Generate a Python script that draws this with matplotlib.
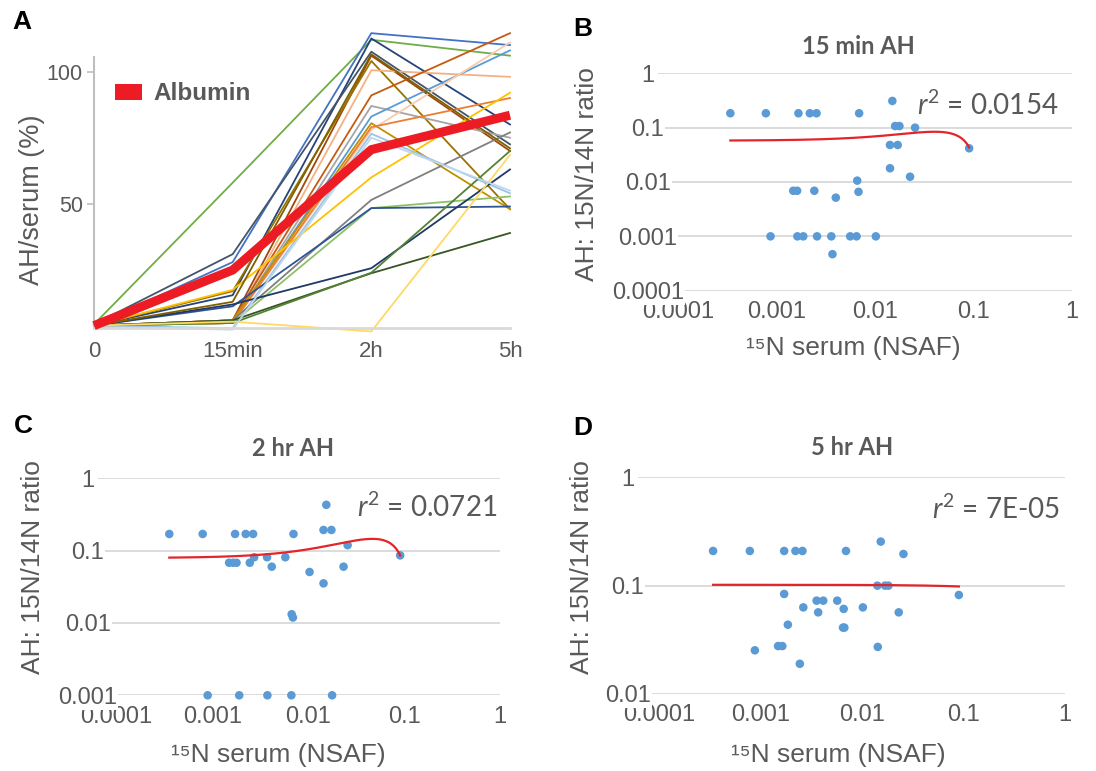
import matplotlib
matplotlib.use("Agg")
import matplotlib.pyplot as plt
import numpy as np
from matplotlib.patches import Patch

plt.rcParams['mathtext.fontset'] = 'custom'
plt.rcParams['mathtext.rm'] = 'Lato'
plt.rcParams['mathtext.it'] = 'Lato:italic'
plt.rcParams['font.family'] = ['Liberation Sans', 'DejaVu Sans']

# ---------------- Panel A data ----------------
time_labels = ['0', '15min', '2h', '5h']
protein_values = [
    [4.5, 58.0, 112.0, 106.0],
    [4.0, 28.0, 114.5, 110.0],
    [4.0, 15.5, 112.5, 80.0],
    [4.5, 31.0, 107.5, 72.5],
    [4.0, 6.0, 106.0, 70.0],
    [4.0, 17.0, 104.0, 48.0],
    [4.0, 5.0, 100.5, 98.0],
    [4.0, 6.0, 91.0, 114.5],
    [4.0, 5.0, 87.0, 75.0],
    [4.0, 5.0, 83.0, 108.0],
    [4.0, 5.0, 78.0, 111.0],
    [4.0, 6.0, 80.5, 48.0],
    [4.0, 3.0, 76.5, 54.0],
    [4.0, 5.0, 79.0, 90.0],
    [4.0, 17.5, 60.0, 92.0],
    [4.0, 6.0, 51.5, 77.0],
    [4.0, 5.0, 48.4, 52.8],
    [4.0, 11.3, 48.4, 49.0],
    [4.0, 12.0, 25.7, 63.0],
    [4.0, 6.0, 23.8, 39.0],
    [4.0, 5.0, 24.0, 70.0],
    [4.0, 5.5, 1.8, 68.5],
    [3.5, 2.5, 75.0, 55.0],
    [4.0, 13.0, 106.5, 71.0],
]
protein_colors = [
    '#70AD47', '#4472C4', '#264478', '#44546A', '#9E480E', '#997300',
    '#F4B183', '#C55A11', '#A5A5A5', '#5B9BD5', '#F8CBAD', '#BF9000',
    '#9DC3E6', '#ED7D31', '#FFC000', '#7F7F7F', '#8CC168', '#2F5597',
    '#203864', '#375623', '#548235', '#FFD966', '#BDD7EE', '#7F6000',
]
albumin_values = [4.0, 25.0, 70.5, 83.5]

# ---------------- Panels B-D data ----------------
xB = [3.4e-4, 7.8e-4, 1.67e-3, 2.18e-3, 2.55e-3, 6.9e-3, 0.015, 0.016, 0.0177, 0.0255,
      0.0142, 0.017, 0.0903, 0.0142, 0.0227, 0.0066, 1.48e-3, 1.62e-3, 2.42e-3, 4.0e-3,
      6.8e-3, 8.7e-4, 1.63e-3, 1.87e-3, 2.58e-3, 3.6e-3, 5.6e-3, 6.5e-3, 0.0102, 3.7e-3]
yB = [0.184, 0.184, 0.184, 0.184, 0.184, 0.184, 0.31, 0.107, 0.107, 0.1,
      0.048, 0.048, 0.0417, 0.0179, 0.0125, 0.0106, 0.0069, 0.0069, 0.0069, 0.00515,
      0.0066, 0.001, 0.001, 0.001, 0.001, 0.001, 0.001, 0.001, 0.001, 0.00047]

xC = [3.54e-4, 7.9e-4, 1.72e-3, 2.22e-3, 2.65e-3, 7.0e-3, 0.0154, 0.0144, 0.0174, 0.0257,
      0.0908, 1.49e-3, 1.64e-3, 1.78e-3, 2.45e-3, 2.72e-3, 3.71e-3, 4.15e-3, 5.75e-3, 0.0103,
      0.0144, 0.0233, 6.7e-3, 6.9e-3, 8.9e-4, 1.9e-3, 3.74e-3, 6.65e-3, 0.0177]
yC = [0.17, 0.17, 0.17, 0.17, 0.17, 0.17, 0.43, 0.193, 0.193, 0.119,
      0.086, 0.068, 0.068, 0.068, 0.068, 0.081, 0.081, 0.060, 0.081, 0.0507,
      0.0353, 0.060, 0.0132, 0.0119, 0.001, 0.001, 0.001, 0.001, 0.001]

xD = [3.41e-4, 7.85e-4, 1.71e-3, 2.21e-3, 2.59e-3, 6.95e-3, 0.0153, 0.0256, 0.01416, 0.01686,
      0.0182, 0.090, 1.71e-3, 3.57e-3, 4.15e-3, 5.7e-3, 2.64e-3, 6.6e-3, 0.0102, 3.7e-3,
      0.023, 1.86e-3, 6.5e-3, 6.7e-3, 8.8e-4, 1.49e-3, 1.64e-3, 0.0143, 2.44e-3]
yD = [0.209, 0.209, 0.209, 0.209, 0.209, 0.209, 0.255, 0.196, 0.1, 0.1,
      0.1, 0.082, 0.0838, 0.0727, 0.0727, 0.0727, 0.063, 0.061, 0.063, 0.0567,
      0.0567, 0.0436, 0.041, 0.041, 0.0253, 0.0277, 0.0277, 0.0272, 0.019]

x_tick_vals = [1e-4, 1e-3, 1e-2, 1e-1, 1]
x_tick_labels = ['0.0001', '0.001', '0.01', '0.1', '1']
titles = ['15 min AH', '2 hr AH', '5 hr AH']
r2_texts = ['0.0154', '0.0721', '7E-05']
trend_orders = [2, 2, 1]

W, H = 1096, 771
fig = plt.figure(figsize=(W / 100, H / 100), dpi=100)

def px_rect(l, t, r, b):
    return [l / W, 1 - b / H, (r - l) / W, (b - t) / H]

def fx(x):
    return x / W

def fy(y):
    return 1 - y / H

GRAY_TXT = '#595959'

# ---------------- Panel A ----------------
axA = fig.add_axes(px_rect(94, 57, 510, 328))
xs = np.arange(len(time_labels))
for vals, c in zip(protein_values, protein_colors):
    axA.plot(xs, vals, color=c, lw=1.3, clip_on=False, zorder=2)
axA.plot(xs, albumin_values, color='#ED1C24', lw=6.5, clip_on=False, zorder=3,
         solid_capstyle='butt')
axA.set_xlim(0, 3)
axA.set_ylim(3.1, 105.5)
for s in ['top', 'right']:
    axA.spines[s].set_visible(False)
axA.spines['left'].set_color('#BFBFBF')
axA.spines['left'].set_linewidth(1.5)
axA.spines['bottom'].set_color('#D9D9D9')
axA.spines['bottom'].set_linewidth(2)
axA.set_yticks([50, 100])
axA.set_xticks(xs, time_labels)
axA.tick_params(axis='y', length=5, width=1.2, color='#BFBFBF', labelsize=15.5,
                labelcolor=GRAY_TXT, pad=3)
axA.tick_params(axis='x', length=0, labelsize=16, labelcolor=GRAY_TXT, pad=9)
leg = axA.legend(handles=[Patch(facecolor='#ED1C24', edgecolor='none', label='Albumin')],
                 loc='center left', bbox_to_anchor=(fx(115), fy(94)),
                 bbox_transform=fig.transFigure, frameon=False, borderpad=0,
                 borderaxespad=0, handlelength=1.1, handleheight=0.6, handletextpad=0.5,
                 prop={'family': 'Liberation Sans', 'weight': 'bold', 'size': 17.5},
                 labelcolor=GRAY_TXT)
fig.text(fx(32), fy(200), 'AH/serum (%)', rotation=90, ha='center', va='center',
         fontsize=19.5, color=GRAY_TXT)

# ---------------- Scatter panels ----------------
def scatter_panel(rect, x, y, xleft, ylow, title, title_xy, r2, r2_xy, xlab_xy, ylab_xy,
                  order):
    ax = fig.add_axes(px_rect(*rect))
    ax.set_xscale('log')
    ax.set_yscale('log')
    ax.set_xlim(xleft, 1)
    ax.set_ylim(ylow, 1)
    yt = [v for v in x_tick_vals if v >= ylow * 0.999]
    ylab = [l for v, l in zip(x_tick_vals, x_tick_labels) if v >= ylow * 0.999]
    ax.set_yticks(yt, ylab)
    ax.set_xticks(x_tick_vals, x_tick_labels)
    ax.xaxis.set_minor_locator(matplotlib.ticker.NullLocator())
    ax.yaxis.set_minor_locator(matplotlib.ticker.NullLocator())
    for s in ax.spines.values():
        s.set_visible(False)
    ax.yaxis.grid(True, color='#D9D9D9', lw=1.3)
    ax.set_axisbelow(True)
    ax.tick_params(axis='both', length=0, labelsize=17, labelcolor=GRAY_TXT)
    ax.tick_params(axis='y', pad=7.2)
    ax.tick_params(axis='x', pad=7.5)
    for lab in ax.get_yticklabels():
        lab.set_ha('center')
        lab.set_bbox(dict(facecolor='white', edgecolor='none', pad=0.5))
    ax.scatter(x, y, s=38, color='#5B9BD5', edgecolors='none', zorder=3, clip_on=False)
    coefs = np.polyfit(x, y, order)
    xx = np.geomspace(min(x), max(x), 400)
    ax.plot(xx, np.polyval(coefs, xx), color='#E3242B', lw=1.6, zorder=4)
    fig.text(fx(title_xy[0]), fy(title_xy[1]), title, ha='center', va='center',
             fontsize=17, fontweight='bold', family='Lato', color=GRAY_TXT)
    fig.text(fx(r2_xy[0]), fy(r2_xy[1]), r'$r^{2}$ = ' + r2, ha='left', va='center',
             fontsize=20, family='Lato', color=GRAY_TXT)
    fig.text(fx(xlab_xy[0]), fy(xlab_xy[1]), '\u00b9\u2075N serum (NSAF)', ha='center',
             va='center', fontsize=19, color=GRAY_TXT)
    fig.text(fx(ylab_xy[0]), fy(ylab_xy[1]), 'AH: 15N/14N ratio', rotation=90,
             ha='center', va='center', fontsize=19, color=GRAY_TXT)
    return ax

scatter_panel((658, 73.3, 1072, 290.7), xB, yB, 10 ** -4.203, 1e-4,
              titles[0], (858, 47), r2_texts[0], (917, 105), (853, 348), (587, 174),
              trend_orders[0])
scatter_panel((98, 478.3, 500, 695.3), xC, yC, 10 ** -4.195, 1e-3,
              titles[1], (293, 448), r2_texts[1], (357, 507), (278, 755), (33, 567),
              trend_orders[1])
scatter_panel((638, 477.3, 1065, 694), xD, yD, 10 ** -4.207, 1e-2,
              titles[2], (852, 447), r2_texts[2], (932, 509), (838, 755), (582, 567),
              trend_orders[2])

# ---------------- Panel letters ----------------
for letter, (px, py) in zip('ABCD', [(22, 22), (583, 29), (23, 426), (583, 428)]):
    fig.text(fx(px), fy(py), letter, ha='center', va='center', fontsize=19,
             fontweight='bold', color='black')

fig.savefig('out.png', dpi=100)
